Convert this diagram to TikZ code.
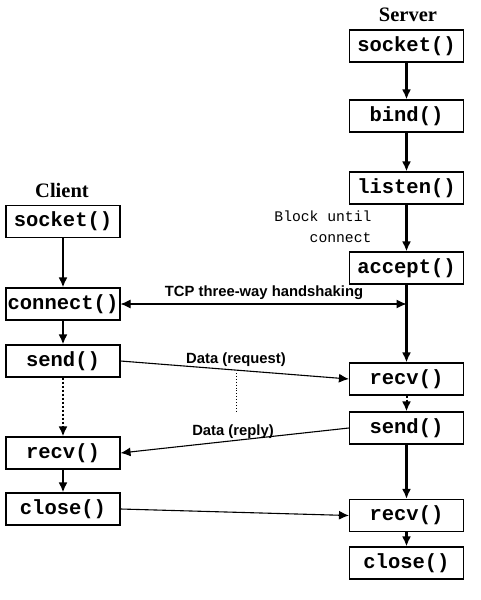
\documentclass[tikz,border=0pt]{standalone}
\usepackage{fontspec}
\setmainfont{Liberation Serif}
\setsansfont{Liberation Sans}
\setmonofont{Liberation Mono}
\usetikzlibrary{arrows.meta}
\begin{document}
\begin{tikzpicture}[x=1pt,y=-1pt,
  fn/.style={draw, line width=1.1pt, minimum width=114pt, minimum height=32pt, inner sep=0pt,
    font=\fontsize{20.5}{20.5}\selectfont\ttfamily\bfseries},
  hd/.style={font=\fontsize{20.5}{20.5}\selectfont\rmfamily\bfseries},
  lbl/.style={font=\fontsize{14.8}{14.8}\selectfont\sffamily\bfseries},
  thick arrow/.style={line width=2.2pt, -{Latex[length=10pt,width=9pt]}},
  thin arrow/.style={line width=1.1pt, -{Latex[length=10pt,width=9pt]}},
  dot arrow/.style={line width=2pt, dotted, -{Latex[length=10pt,width=9pt]}}]
\useasboundingbox (0,0) rectangle (481,600);
% server
\node[hd] (server) at (408,15) {Server};
\node[fn] (ssock) at (406.5,46) {socket()};
\node[fn] (sbind) at (406.5,116) {bind()};
\node[fn] (slist) at (406.5,188) {listen()};
\node[fn] (sacc) at (406.5,268) {accept()};
\node[fn] (srecv) at (406.5,379) {recv()};
\node[fn] (ssend) at (406.5,428) {send()};
\node[fn] (srecvb) at (406.5,515.5) {recv()};
\node[fn] (sclose) at (406.5,563) {close()};
% client
\node[hd] (client) at (62,190) {Client};
\node[fn] (csock) at (63,221.5) {socket()};
\node[fn] (cconn) at (63,304) {connect()};
\node[fn] (csend) at (63,361) {send()};
\node[fn] (crecv) at (63,453) {recv()};
\node[fn] (cclose) at (63,509) {close()};
% block label
\node[font=\fontsize{14.7}{21}\selectfont\ttfamily, align=right, anchor=east] (block) at (375,226.5) {Block until\\connect};
% server arrows
\draw[thick arrow] (ssock) -- (sbind);
\draw[thick arrow] (sbind) -- (slist);
\draw[thick arrow] (slist) -- (sacc);
\draw[thick arrow] (sacc) -- (srecv);
\draw[dot arrow] (srecv) -- (ssend);
\draw[thick arrow] (ssend) -- (srecvb);
\draw[thick arrow] (srecvb) -- (sclose);
% client arrows
\draw[thick arrow] (csock) -- (cconn);
\draw[thick arrow] (cconn) -- (csend);
\draw[dot arrow] (csend) -- (crecv);
\draw[thick arrow] (crecv) -- (cclose);
% messages
\coordinate (hs) at (cconn.east -| sacc.south);
\draw[line width=1.1pt, {Latex[length=10pt,width=9pt]}-{Latex[length=10pt,width=9pt]}] (cconn.east) -- (hs);
\node[lbl] (tcp) at (264,293) {TCP three-way handshaking};
\draw[thin arrow] (csend.east) -- (srecv.west);
\node[lbl] (req) at (236,360) {Data (request)};
\draw[thin arrow] (ssend.west) -- (crecv.east);
\node[lbl] (rep) at (233,432) {Data (reply)};
\coordinate (d1) at (236,373);
\coordinate (d2) at (236,412);
\draw[line width=0.9pt, dotted] (d1) -- (d2);
\draw[thin arrow] (cclose.east) -- (srecvb.west);
\end{tikzpicture}
\end{document}
